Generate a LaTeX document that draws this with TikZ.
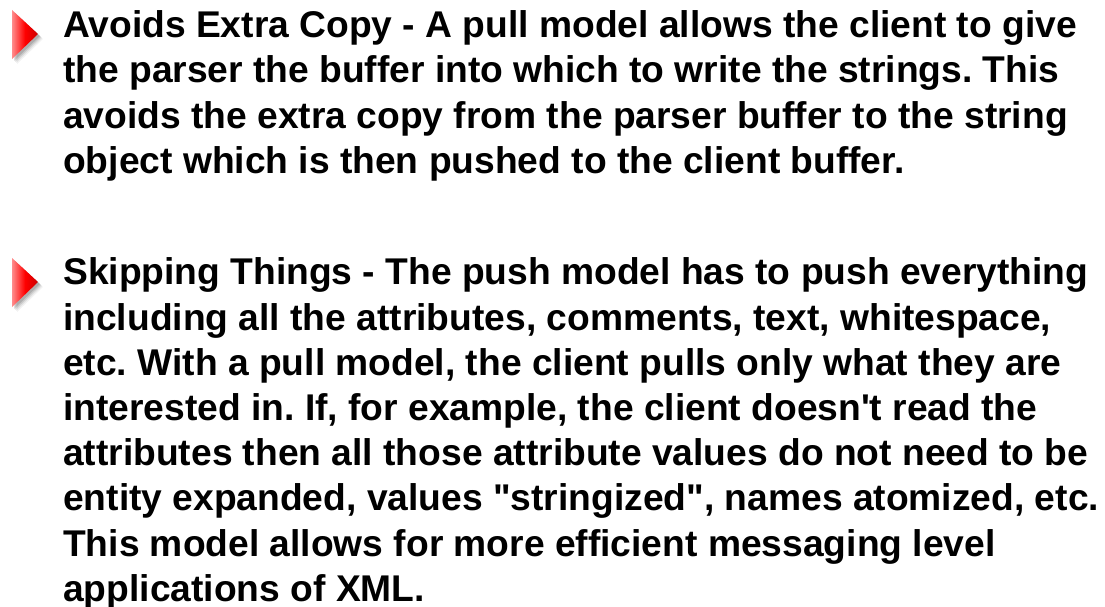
\documentclass[tikz,border=0pt]{standalone}
\usepackage{fontspec}
\newfontfamily\bodyfont{Liberation Sans}
\usetikzlibrary{calc}
\tikzset{
  x=1pt, y=-1pt,
  para/.style={anchor=base west, inner sep=0pt, align=left,
    font=\bodyfont\bfseries\frenchspacing\fontsize{37.2}{45.2}\selectfont},
}
% red arrow bullet with a soft drop shadow; #1 is its top-left corner
\newcommand{\redbullet}[1]{%
  \foreach \d/\o in {5/0.05,4/0.07,3/0.10,2/0.13}{
    \fill[black, opacity=\o] ($(#1)+(\d,\d)$) -- ++(26,24) -- ++(-26,25) -- cycle;
  }
  \shade[left color=red!45!white, right color=red!80!black, middle color=red]
    (#1) -- ++(26,24) -- ++(-26,25) -- cycle;
}
\begin{document}
\begin{tikzpicture}
\useasboundingbox (0,0) rectangle (1105,607);
\fill[white] (0,0) rectangle (1105,607);

\coordinate (b1) at (12,10);
\coordinate (b2) at (12,258);
\redbullet{b1}
\redbullet{b2}

% the base anchor of each paragraph sits on its last line
\node[para] (p1) at (63,173.3) {Avoids Extra Copy - A pull model allows the client to give\\
the parser the buffer into which to write the strings. This\\
avoids the extra copy from the parser buffer to the string\\
object which is then pushed to the client buffer.};

\node[para] (p2) at (63,601.2) {Skipping Things - The push model has to push everything\\
including all the attributes, comments, text, whitespace,\\
etc. With a pull model, the client pulls only what they are\\
interested in. If, for example, the client doesn't read the\\
attributes then all those attribute values do not need to be\\
entity expanded, values "stringized", names atomized, etc.\\
This model allows for more efficient messaging level\\
applications of XML.};
\end{tikzpicture}
\end{document}
